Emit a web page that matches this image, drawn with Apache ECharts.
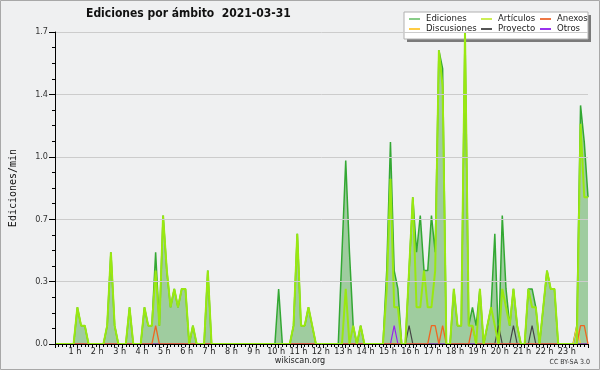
<!DOCTYPE html>
<html><head><meta charset="utf-8">
<script src="https://cdn.jsdelivr.net/npm/echarts@6/dist/echarts.min.js"></script>
<style>html,body{margin:0;padding:0;background:#eff0f1}#c{width:600px;height:370px}</style>
</head><body><div id="c"></div>
<script>
// 10-minute buckets, 00:00 .. 23:50 (6 values per hour row)
var bucketMinutes = [];
for (var k = 0; k < 144; k++) bucketMinutes.push(k * 10);

var hourTicks = ['1 h','2 h','3 h','4 h','5 h','6 h','7 h','8 h','9 h','10 h','11 h','12 h','13 h','14 h','15 h','16 h','17 h','18 h','19 h','20 h','21 h','22 h','23 h'];

var ediciones = [
 0,0,0,0,0,0,
 0.2,0.1,0.1,0,0,0,
 0,0,0.1,0.5,0.1,0,
 0,0,0.2,0,0,0,
 0.2,0.1,0.1,0.5,0.1,0.7,
 0.4,0.2,0.3,0.2,0.3,0.3,
 0,0.1,0,0,0,0.4,
 0,0,0,0,0,0,
 0,0,0,0,0,0,
 0,0,0,0,0,0,
 0.3,0,0,0,0.1,0.6,
 0.1,0.1,0.2,0.1,0,0,
 0,0,0,0,0,0.5,
 1.0,0.5,0.1,0,0.1,0,
 0,0,0,0,0,0.4,
 1.1,0.4,0.3,0,0,0.4,
 0.8,0.5,0.7,0.4,0.4,0.7,
 0.5,1.6,1.5,0,0,0.3,
 0.1,0.1,1.7,0.1,0.2,0.1,
 0.3,0,0.1,0.2,0.6,0,
 0.7,0.3,0.1,0.3,0.1,0,
 0,0.3,0.3,0.2,0,0.2,
 0.4,0.3,0.3,0,0,0,
 0,0,0.1,1.3,1.1,0.8
];
var articulos = [
 0,0,0,0,0,0,
 0.2,0.1,0.1,0,0,0,
 0,0,0.1,0.5,0.1,0,
 0,0,0.2,0,0,0,
 0.2,0.1,0.1,0.4,0.1,0.7,
 0.4,0.2,0.3,0.2,0.3,0.3,
 0,0.1,0,0,0,0.4,
 0,0,0,0,0,0,
 0,0,0,0,0,0,
 0,0,0,0,0,0,
 0,0,0,0,0.1,0.6,
 0.1,0.1,0.2,0.1,0,0,
 0,0,0,0,0,0,
 0.3,0,0.1,0,0.1,0,
 0,0,0,0,0,0.3,
 0.9,0.2,0.2,0,0,0.4,
 0.8,0.2,0.2,0.4,0.2,0.2,
 0.4,1.6,1.4,0,0,0.3,
 0.1,0.1,1.7,0.1,0.1,0,
 0.3,0,0.1,0.2,0.1,0,
 0.3,0.2,0.1,0.3,0.1,0,
 0,0.3,0.2,0.2,0,0.2,
 0.4,0.3,0.3,0,0,0,
 0,0,0,1.2,0.8,0.8
];
var anexos = [
 0,0,0,0,0,0, 0,0,0,0,0,0, 0,0,0,0,0,0, 0,0,0,0,0,0,
 0,0,0,0.1,0,0, 0,0,0,0,0,0, 0,0,0,0,0,0, 0,0,0,0,0,0,
 0,0,0,0,0,0, 0,0,0,0,0,0, 0,0,0,0,0,0, 0,0,0,0,0,0,
 0,0,0,0,0,0, 0,0,0,0,0,0, 0,0,0,0,0,0, 0,0,0,0,0,0,
 0,0,0,0,0,0.1, 0.1,0,0.1,0,0,0, 0,0,0,0,0.1,0, 0,0,0,0,0,0,
 0,0,0,0,0,0, 0,0,0,0,0,0, 0,0,0,0,0,0, 0,0,0,0.1,0.1,0
];
var discusiones = [
 0,0,0,0,0,0, 0,0,0,0,0,0, 0,0,0,0,0,0, 0,0,0,0,0,0,
 0,0,0,0,0,0, 0,0,0,0,0,0, 0,0,0,0,0,0, 0,0,0,0,0,0,
 0,0,0,0,0,0, 0,0,0,0,0,0, 0,0,0,0,0,0, 0,0,0,0,0,0,
 0,0,0,0,0,0, 0,0,0,0,0,0, 0,0,0,0,0,0, 0,0,0,0,0,0,
 0,0,0,0,0,0, 0,0,0,0,0,0, 0,0,0,0,0,0, 0,0,0,0,0,0,
 0,0,0,0,0,0, 0,0,0,0,0,0, 0,0,0,0,0,0, 0,0,0.1,0,0,0
];
var proyecto = [
 0,0,0,0,0,0, 0,0,0,0,0,0, 0,0,0,0,0,0, 0,0,0,0,0,0,
 0,0,0,0,0,0, 0,0,0,0,0,0, 0,0,0,0,0,0, 0,0,0,0,0,0,
 0,0,0,0,0,0, 0,0,0,0,0,0, 0,0,0,0,0,0, 0,0,0,0,0,0,
 0,0,0,0,0,0, 0,0,0,0,0,0, 0,0,0,0,0,0, 0,0,0,0,0,0.1,
 0,0,0,0,0,0, 0,0,0,0,0,0, 0,0,0,0,0,0, 0,0,0,0,0,0.1,
 0,0,0,0.1,0,0, 0,0,0.1,0,0,0, 0,0,0,0,0,0, 0,0,0,0,0,0
];
var otros = [
 0,0,0,0,0,0, 0,0,0,0,0,0, 0,0,0,0,0,0, 0,0,0,0,0,0,
 0,0,0,0,0,0, 0,0,0,0,0,0, 0,0,0,0,0,0, 0,0,0,0,0,0,
 0,0,0,0,0,0, 0,0,0,0,0,0, 0,0,0,0,0,0, 0,0,0,0,0,0,
 0,0,0,0,0,0, 0,0,0,0,0,0, 0,0,0,0,0,0, 0,0,0,0,0,0,
 0,0,0,0,0,0, 0,0,0,0,0,0, 0,0,0,0,0,0, 0,0,0,0,0,0,
 0,0,0,0,0,0, 0,0,0,0,0,0, 0,0,0,0,0,0, 0,0,0,0,0,0
];
otros[91] = 0.1;

var yTicks = ['0.0','0.3','0.7','1.0','1.4','1.7'];

function pairs(arr){ return arr.map(function(v,i){ return [bucketMinutes[i], v]; }); }

var FC = '"DejaVu Sans Condensed","DejaVu Sans",sans-serif';

function leg(name, color, x, y){
  return { data:[{name:name, itemStyle:{color:color}, lineStyle:{color:color}}],
    left:x, top:y, padding:0, itemGap:0, itemWidth:11, itemHeight:2, icon:'rect',
    selectedMode:false, z:6,
    textStyle:{fontSize:9.5, fontFamily:FC, color:'#222', padding:[0,0,0,1]} };
}

var chart = echarts.init(document.getElementById('c'), null, {renderer:'canvas'});
chart.setOption({
  backgroundColor:'#eff0f1',
  animation:false,
  title:{ text:'Ediciones por ámbito  2021-03-31', left:86, top:8, padding:0,
    textStyle:{fontSize:12, fontWeight:'bold', fontFamily:FC, color:'#111'} },
  legend:[
    leg('Ediciones','#88cc88',409,14),
    leg('Artículos','#ccee55',481,14),
    leg('Anexos','#ee7744',540,14),
    leg('Discusiones','#ffcc44',409,24),
    leg('Proyecto','#555555',481,24),
    leg('Otros','#9933ee',540,24)
  ],
  grid:{left:46, right:12, top:32, bottom:26},
  xAxis:{ type:'value', min:0, max:1430, interval:60, z:10,
    axisLine:{lineStyle:{color:'#000', width:1}},
    axisTick:{show:true, length:4, lineStyle:{color:'#000'}},
    minorTick:{show:true, splitNumber:6, length:3, lineStyle:{color:'#000'}},
    splitLine:{show:false},
    axisLabel:{ margin:3, fontSize:9, fontFamily:FC, color:'#222', padding:[0,5,0,0],
      formatter:function(v){ var h = v/60; return (h>=1 && h<=23 && h===Math.round(h)) ? hourTicks[h-1] : ''; } } },
  yAxis:{ type:'value', min:0, max:1.7, interval:0.34, z:10,
    name:'Ediciones/min', nameLocation:'middle', nameGap:37,
    nameTextStyle:{fontSize:10, fontFamily:'"DejaVu Sans Mono",monospace', color:'#111'},
    axisLine:{show:true, lineStyle:{color:'#000'}},
    axisTick:{show:true, length:6, lineStyle:{color:'#000'}},
    minorTick:{show:true, splitNumber:4, length:3, lineStyle:{color:'#000'}},
    splitLine:{show:true, lineStyle:{color:'#cccccc', width:1}},
    axisLabel:{ margin:7, fontSize:9, fontFamily:FC, color:'#333',
      formatter:function(v){ return yTicks[Math.round(v/0.34)] || ''; } } },
  series:[
    { name:'Ediciones', type:'line', data:pairs(ediciones), symbol:'none', z:2,
      lineStyle:{color:'#33a833', width:1.5}, itemStyle:{color:'#33a833'},
      areaStyle:{color:'#9fcc9f', opacity:1} },
    { name:'Discusiones', type:'line', data:pairs(discusiones), symbol:'none', z:3,
      lineStyle:{color:'#ffcc33', width:1.2}, itemStyle:{color:'#ffcc33'} },
    { name:'Proyecto', type:'line', data:pairs(proyecto), symbol:'none', z:3,
      lineStyle:{color:'#444444', width:1.2}, itemStyle:{color:'#444444'} },
    { name:'Otros', type:'line', data:pairs(otros), symbol:'none', z:3,
      lineStyle:{color:'#9922ee', width:1.2}, itemStyle:{color:'#9922ee'} },
    { name:'Anexos', type:'line', data:pairs(anexos), symbol:'none', z:3,
      lineStyle:{color:'#ee6622', width:1.3}, itemStyle:{color:'#ee6622'} },
    { name:'Artículos', type:'line', data:pairs(articulos), symbol:'none', z:4,
      lineStyle:{color:'#99e811', width:2}, itemStyle:{color:'#99e811'} }
  ],
  graphic:[
    { type:'rect', z:0, silent:true, shape:{x:407, y:15, width:184, height:27}, style:{fill:'#7a7a7a'} },
    { type:'rect', z:1, silent:true, shape:{x:404, y:12, width:184, height:27}, style:{fill:'#ffffff', stroke:'#b0b0b0', lineWidth:1} },
    { type:'text', z:5, silent:true, left:'center', top:356, style:{text:'wikiscan.org', fontSize:9, fontFamily:FC, fill:'#222'} },
    { type:'text', z:5, silent:true, right:10, top:359, style:{text:'CC BY-SA 3.0', fontSize:7, fontFamily:FC, fill:'#333'} },
    { type:'rect', z:0, silent:true, shape:{x:0.5, y:0.5, width:599, height:369}, style:{fill:'none', stroke:'#a8a8a8', lineWidth:1} }
  ]
});
</script></body></html>
